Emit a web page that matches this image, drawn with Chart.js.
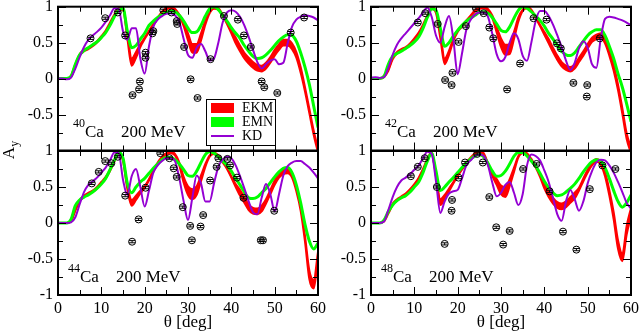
<!DOCTYPE html>
<html>
<head>
<meta charset="utf-8">
<script src="https://cdn.jsdelivr.net/npm/chart.js@4.4.1/dist/chart.umd.min.js"></script>
<style>
  body { margin: 0; background: #fff; }
  #wrap { position: relative; width: 641px; height: 335px; font-family: "Liberation Serif", "Times New Roman", serif; color: #000; }
  #wrap canvas { position: absolute; left: 0; top: 0; }
  .lab { position: absolute; font-size: 17px; line-height: 20px; white-space: nowrap; }
  .lab .sup { font-size: 12px; position: relative; top: -10px; margin-right: 0; }
  .lab .mev { margin-left: 17px; }
  #ytitle { position: absolute; left: -11px; top: 140px; width: 40px; height: 20px; line-height: 20px; font-size: 17px; text-align: center; transform: rotate(-90deg); }
  #ytitle span { font-size: 12px; position: relative; top: 4px; }
  #legend { position: absolute; left: 206px; top: 99px; width: 68px; height: 45px; border: 1px solid #000; background: #fff; }
  #legend .row { position: absolute; left: 0; width: 68px; height: 14px; }
  #legend .sw { position: absolute; left: 4px; width: 23px; }
  #legend .tx { position: absolute; left: 35px; top: 0; font-size: 14px; line-height: 14px; }
</style>
</head>
<body>
<div id="wrap">
  <canvas id="c40" width="641" height="335"></canvas>
  <canvas id="c42" width="641" height="335"></canvas>
  <canvas id="c44" width="641" height="335"></canvas>
  <canvas id="c48" width="641" height="335"></canvas>

  <div class="lab" style="left:73px;top:122px"><span class="sup">40</span>Ca<span class="mev">200 MeV</span></div>
  <div class="lab" style="left:385px;top:122px"><span class="sup">42</span>Ca<span class="mev">200 MeV</span></div>
  <div class="lab" style="left:68px;top:267px"><span class="sup">44</span>Ca<span class="mev">200 MeV</span></div>
  <div class="lab" style="left:381px;top:267px"><span class="sup">48</span>Ca<span class="mev">200 MeV</span></div>

  <div id="ytitle">A<span>y</span></div>

  <div id="legend">
    <div class="row" style="top:1px"><div class="sw" style="top:2px;height:10px;background:#ff0000"></div><div class="tx">EKM</div></div>
    <div class="row" style="top:15px"><div class="sw" style="top:2px;height:10px;background:#00ff00"></div><div class="tx">EMN</div></div>
    <div class="row" style="top:29px"><div class="sw" style="top:6px;height:2px;background:#9400d3"></div><div class="tx">KD</div></div>
  </div>
</div>

<script>
// -----------------------------
// DATA
// -----------------------------
const theta = [0,1,2,3,4,5,6,7,8,9,10,11,12,13,14,15,16,17,18,19,20,21,22,23,24,25,26,27,28,29,30,
               31,32,33,34,35,36,37,38,39,40,41,42,43,44,45,46,47,48,49,50,51,52,53,54,55,56,57,58,59,60];

const xTicksMajor = [0, 10, 20, 30, 40, 50, 60];
const xTicksMinor = [5, 15, 25, 35, 45, 55];
const yTicksMajor = [-1, -0.5, 0, 0.5, 1];
const yTicksMinor = [-0.75, -0.25, 0.25, 0.75];

// 40Ca
const ca40Kd = [0,0,-0.01,0.015,0.14,0.3,0.44,0.54,0.6,0.65,0.71,0.79,0.88,0.98,0.97,0.66,0.54,0.7,0.7,0.28,0.07,0.45,0.72,0.82,0.87,0.9,0.91,0.88,0.79,0.55,0.33,
                0.29,0.43,0.48,0.38,0.25,0.28,0.5,0.78,0.92,0.95,0.93,0.86,0.74,0.58,0.4,0.23,0.14,0.2,0.25,0.27,0.2,0.22,0.49,0.72,0.82,0.86,0.88,0.87,0.85,0.81];
const ca40Emn = [0,0,0,0.03,0.2,0.33,0.39,0.43,0.47,0.51,0.57,0.64,0.74,0.86,0.95,0.98,0.66,0.43,0.46,0.55,0.63,0.74,0.8,0.85,0.89,0.92,0.94,0.93,0.88,0.8,0.7,
                 0.64,0.65,0.74,0.87,0.97,1.0,0.96,0.88,0.8,0.71,0.63,0.56,0.46,0.38,0.31,0.28,0.29,0.33,0.39,0.46,0.53,0.58,0.61,0.6,0.52,0.36,0.16,-0.08,-0.38,-0.68];
const ca40EkmHi = [0,0,0,0.04,0.2,0.34,0.4,0.43,0.47,0.52,0.59,0.67,0.78,0.89,0.98,0.99,0.64,0.28,0.37,0.48,0.57,0.67,0.76,0.85,0.93,0.98,1.0,0.97,0.89,0.79,0.63,
                   0.48,0.48,0.63,0.81,0.93,0.99,0.98,0.89,0.78,0.67,0.57,0.46,0.36,0.29,0.23,0.19,0.18,0.22,0.3,0.4,0.48,0.54,0.54,0.49,0.37,0.16,-0.12,-0.42,-0.72,-0.97];
const ca40EkmLo = [0,0,0,0.02,0.18,0.32,0.38,0.41,0.45,0.5,0.57,0.65,0.76,0.87,0.96,0.95,0.56,0.18,0.29,0.44,0.55,0.65,0.74,0.83,0.91,0.96,0.98,0.95,0.87,0.73,0.53,
                   0.36,0.36,0.53,0.75,0.91,0.97,0.96,0.87,0.76,0.63,0.49,0.38,0.28,0.21,0.15,0.11,0.1,0.14,0.22,0.32,0.4,0.46,0.46,0.41,0.29,0.08,-0.18,-0.48,-0.78,-1.03];
const ca40PtTheta = [7.5,10.9,13.8,15.5,17.2,18.7,18.9,20.2,20.2,21.8,22,24.3,26.2,27.4,27.5,29.1,30.6,32.2,35.2,38.3,41.5,42.9,44.5,47,47.6,50.6,53.7,56.8];
const ca40PtAy    = [0.56,0.84,0.92,0.6,-0.23,-0.15,-0.04,0.36,0.29,0.63,0.66,0.95,0.92,0.8,0.76,0.44,-0.01,-0.27,0.27,0.87,0.82,0.6,0.44,-0.04,-0.12,-0.2,0.64,0.85];

// 42Ca
const ca42Kd = [0.01,0.02,0.01,0.02,0.15,0.33,0.47,0.56,0.63,0.7,0.77,0.84,0.92,0.99,0.86,0.6,0.5,0.72,0.87,0.55,0.06,0.35,0.68,0.82,0.89,0.92,0.92,0.86,0.62,0.34,0.24,
                0.3,0.5,0.63,0.55,0.32,0.25,0.5,0.8,0.94,0.94,0.87,0.75,0.6,0.44,0.25,0.12,0.22,0.42,0.52,0.43,0.2,0.15,0.55,0.83,0.86,0.85,0.83,0.81,0.78,0.74];
const ca42Emn = [0,0,0,0.03,0.2,0.31,0.35,0.38,0.42,0.46,0.51,0.58,0.7,0.85,0.97,0.95,0.7,0.45,0.5,0.59,0.67,0.74,0.8,0.84,0.88,0.92,0.93,0.91,0.85,0.76,0.67,
                 0.65,0.72,0.84,0.95,1.0,0.98,0.93,0.87,0.81,0.73,0.63,0.55,0.46,0.38,0.33,0.32,0.36,0.44,0.52,0.6,0.65,0.68,0.68,0.6,0.45,0.28,0.07,-0.12,-0.35,-0.6];
const ca42EkmHi = [0,0,0,0.04,0.13,0.29,0.37,0.41,0.44,0.49,0.56,0.64,0.75,0.88,0.99,0.95,0.64,0.28,0.39,0.56,0.67,0.74,0.81,0.88,0.95,0.99,1.0,0.97,0.88,0.72,0.56,
                   0.47,0.48,0.65,0.85,0.96,1.0,0.96,0.86,0.75,0.65,0.55,0.43,0.32,0.23,0.18,0.16,0.2,0.29,0.38,0.48,0.57,0.61,0.63,0.55,0.38,0.19,-0.08,-0.41,-0.76,-0.96];
const ca42EkmLo = [0,0,0,0.02,0.11,0.27,0.35,0.39,0.42,0.47,0.54,0.62,0.73,0.86,0.97,0.91,0.56,0.2,0.33,0.52,0.65,0.72,0.79,0.86,0.93,0.97,0.98,0.95,0.84,0.64,0.44,
                   0.33,0.34,0.55,0.79,0.94,0.98,0.94,0.84,0.73,0.61,0.49,0.37,0.26,0.17,0.12,0.1,0.14,0.23,0.32,0.42,0.51,0.55,0.57,0.49,0.32,0.11,-0.16,-0.49,-0.84,-1.04];
const ca42PtTheta = [10.8,12.5,15.4,17.1,18.6,18.8,20.2,21.9,24.2,26,27.3,28.2,31.4,34.4,37.5,40.5,42.9,43.8,46.7,49.9,49.8,52.8];
const ca42PtAy    = [0.78,0.91,0.76,-0.02,-0.09,0.08,0.51,0.73,0.98,0.91,0.71,0.56,-0.15,0.21,0.84,0.82,0.49,0.42,-0.06,-0.09,-0.25,0.56];

// 44Ca
const ca44Kd = [0,0,0,0.01,0.08,0.26,0.43,0.53,0.58,0.63,0.7,0.77,0.87,0.98,0.97,0.6,0.39,0.65,0.75,0.5,0.23,0.45,0.7,0.8,0.86,0.9,0.9,0.86,0.62,0.3,0.04,
                0.35,0.66,0.55,0.3,0.3,0.55,0.78,0.88,0.92,0.9,0.8,0.65,0.48,0.3,0.15,0.12,0.35,0.54,0.4,0.16,0.4,0.66,0.79,0.84,0.86,0.86,0.82,0.77,0.7,0.62];
const ca44Emn = [0,0,0,0.05,0.24,0.32,0.36,0.39,0.43,0.48,0.54,0.62,0.74,0.87,0.98,0.9,0.55,0.42,0.5,0.57,0.62,0.69,0.76,0.82,0.88,0.91,0.91,0.88,0.82,0.74,0.66,
                 0.65,0.72,0.84,0.95,0.99,0.97,0.92,0.86,0.8,0.72,0.62,0.53,0.43,0.35,0.34,0.36,0.42,0.48,0.56,0.64,0.71,0.76,0.77,0.7,0.53,0.28,-0.02,-0.25,-0.36,-0.28];
const ca44EkmHi = [0,0,0,0.04,0.19,0.32,0.38,0.42,0.45,0.5,0.57,0.64,0.74,0.87,0.98,0.9,0.53,0.32,0.38,0.45,0.51,0.61,0.73,0.84,0.92,0.97,0.99,0.96,0.84,0.64,0.51,
                   0.47,0.51,0.66,0.82,0.94,0.98,0.94,0.86,0.77,0.65,0.54,0.46,0.36,0.26,0.21,0.2,0.24,0.33,0.46,0.59,0.69,0.74,0.75,0.69,0.5,0.23,-0.18,-0.66,-0.79,-0.4];
const ca44EkmLo = [0,0,0,0.02,0.17,0.3,0.36,0.4,0.43,0.48,0.55,0.62,0.72,0.85,0.96,0.86,0.47,0.24,0.32,0.41,0.49,0.59,0.71,0.82,0.9,0.95,0.97,0.94,0.8,0.56,0.39,
                   0.33,0.39,0.58,0.78,0.92,0.96,0.92,0.84,0.75,0.63,0.5,0.38,0.28,0.18,0.13,0.12,0.16,0.27,0.4,0.53,0.63,0.68,0.69,0.63,0.44,0.17,-0.26,-0.78,-0.91,-0.5];
const ca44PtTheta = [7.8,9.4,10.9,12.3,13.8,15.5,17.1,18.6,20.2,23.6,25.7,26.7,27.4,28.8,30.5,30.9,32.9,33.5,35.1,36.6,37,39.1,39.7,41.3,42.8,46.8,47.3,49.9];
const ca44PtAy    = [0.55,0.71,0.86,0.83,0.92,0.38,-0.26,0.05,0.49,0.97,0.9,0.76,0.64,0.22,-0.04,-0.24,-0.05,0.11,0.59,0.78,0.9,0.89,0.8,0.63,0.35,-0.24,-0.24,0.17];

// 48Ca
const ca48Kd = [0,0,0,0.02,0.18,0.36,0.5,0.59,0.63,0.68,0.74,0.8,0.9,0.99,0.96,0.58,0.14,0.3,0.41,0.44,0.46,0.62,0.8,0.87,0.93,0.95,0.93,0.8,0.56,0.37,0.42,
                0.53,0.57,0.42,0.25,0.4,0.8,0.95,0.93,0.87,0.73,0.57,0.35,0.12,0.03,0.3,0.46,0.33,0.17,0.3,0.55,0.72,0.84,0.88,0.87,0.8,0.7,0.57,0.43,0.28,0.2];
const ca48Emn = [0,0,0,0.04,0.16,0.25,0.31,0.35,0.38,0.43,0.5,0.57,0.7,0.86,0.97,0.72,0.45,0.5,0.57,0.63,0.7,0.77,0.83,0.89,0.93,0.95,0.92,0.83,0.72,0.65,0.66,
                 0.72,0.82,0.93,0.98,0.98,0.93,0.86,0.79,0.69,0.58,0.49,0.42,0.38,0.39,0.43,0.48,0.54,0.62,0.71,0.79,0.85,0.88,0.86,0.77,0.62,0.45,0.3,0.22,0.28,0.39];
const ca48EkmHi = [0,0,0,0.04,0.15,0.27,0.33,0.37,0.41,0.47,0.54,0.63,0.75,0.89,0.99,0.68,0.33,0.39,0.48,0.57,0.67,0.76,0.84,0.91,0.97,1.0,0.97,0.83,0.69,0.61,0.52,
                   0.5,0.61,0.77,0.93,0.99,0.97,0.89,0.79,0.68,0.56,0.44,0.35,0.29,0.27,0.3,0.36,0.42,0.49,0.62,0.74,0.84,0.89,0.85,0.71,0.46,0.15,-0.24,-0.43,-0.04,0.21];
const ca48EkmLo = [0,0,0,0.02,0.13,0.25,0.31,0.35,0.39,0.45,0.52,0.61,0.73,0.87,0.97,0.64,0.25,0.33,0.44,0.55,0.65,0.74,0.82,0.89,0.95,0.98,0.95,0.81,0.65,0.53,0.4,
                   0.36,0.51,0.71,0.91,0.97,0.95,0.87,0.77,0.64,0.48,0.36,0.27,0.21,0.19,0.22,0.28,0.34,0.45,0.58,0.7,0.8,0.85,0.81,0.65,0.38,0.05,-0.36,-0.53,-0.16,0.09];
const ca48PtTheta = [9.2,10.8,12.4,15.2,17,18.7,18.6,20.2,21.7,24.5,25.8,27.3,28.9,30.5,32,35.1,38.2,41.2,44.3,47.4,50.5,53.4,56.4];
const ca48PtAy    = [0.65,0.78,0.9,0.5,-0.29,0.32,0.17,0.63,0.84,0.96,0.84,0.36,-0.06,-0.3,-0.11,0.75,0.82,0.44,-0.12,-0.37,0.47,0.8,0.75];

const ERR = 0.015;   // error bar half-size on data points

// -----------------------------
// STYLE
// -----------------------------
const RED = "#ff0000";
const GREEN = "#00ff00";
const PURPLE = "#9400d3";
const FONT = { family: "'Liberation Serif', 'Times New Roman', serif", size: 16 };

// frame, inward ticks and error caps
const framePlugin = {
    id: "frame",
    afterDatasetsDraw(chart) {
        const { ctx, chartArea: a, scales: { x, y } } = chart;
        ctx.save();
        ctx.strokeStyle = "#000";
        ctx.lineWidth = 1;
        ctx.beginPath();
        const xt = (list, len) => list.forEach(v => {
            const px = Math.round(x.getPixelForValue(v)) + 0.5;
            ctx.moveTo(px, a.bottom); ctx.lineTo(px, a.bottom - len);
            ctx.moveTo(px, a.top); ctx.lineTo(px, a.top + len);
        });
        const yt = (list, len) => list.forEach(v => {
            const py = Math.round(y.getPixelForValue(v)) + 0.5;
            ctx.moveTo(a.left, py); ctx.lineTo(a.left + len, py);
            ctx.moveTo(a.right, py); ctx.lineTo(a.right - len, py);
        });
        xt(xTicksMajor, 8); xt(xTicksMinor, 5);
        yt(yTicksMajor, 8); yt(yTicksMinor, 5);
        ctx.stroke();

        // error caps of the data points
        const meta = chart.getDatasetMeta(0);
        const pts = chart.data.datasets[0].data;
        ctx.beginPath();
        meta.data.forEach((el, i) => {
            const t = y.getPixelForValue(pts[i].y + ERR);
            const b = y.getPixelForValue(pts[i].y - ERR);
            ctx.moveTo(el.x - 3, t); ctx.lineTo(el.x + 3, t);
            ctx.moveTo(el.x - 3, b); ctx.lineTo(el.x + 3, b);
            ctx.moveTo(el.x, t); ctx.lineTo(el.x, b);
        });
        ctx.stroke();

        ctx.lineWidth = 2;
        ctx.strokeRect(a.left, a.top, a.right - a.left, a.bottom - a.top);
        ctx.restore();
    }
};

function curve(arr) {
    return theta.map((t, i) => ({ x: t, y: arr[i] }));
}

function makePanel(id, area, bottomRow, kd, emn, ekmLo, ekmHi, ptTheta, ptAy) {
    const xHeight = bottomRow ? 40 : 0;
    new Chart(document.getElementById(id), {
        type: "line",
        data: {
            datasets: [
                {
                    label: "data",
                    data: ptTheta.map((t, i) => ({ x: t, y: ptAy[i] })),
                    showLine: false,
                    pointRadius: 3.5,
                    pointBorderWidth: 1,
                    pointBorderColor: "#000",
                    pointBackgroundColor: "rgba(0,0,0,0)",
                    order: 0
                },
                { label: "KD", data: curve(kd), borderColor: PURPLE, borderWidth: 2, order: 1 },
                { label: "EMN", data: curve(emn), borderColor: GREEN, borderWidth: 3, order: 2 },
                { label: "EKM lo", data: curve(ekmLo), borderColor: RED, borderWidth: 2, order: 3 },
                { label: "EKM hi", data: curve(ekmHi), borderColor: RED, borderWidth: 2, backgroundColor: RED, fill: "-1", order: 3 }
            ]
        },
        options: {
            responsive: false,
            animation: false,
            devicePixelRatio: 1,
            events: [],
            elements: {
                point: { radius: 0 },
                line: { cubicInterpolationMode: "monotone" }
            },
            layout: {
                padding: {
                    left: area.left - 50,
                    top: area.top,
                    right: 641 - area.right,
                    bottom: 335 - area.bottom - xHeight
                }
            },
            plugins: { legend: { display: false }, tooltip: { enabled: false } },
            scales: {
                x: {
                    type: "linear",
                    min: 0, max: 60,
                    ticks: { stepSize: 10, display: bottomRow, font: FONT, color: "#000", padding: 4, maxRotation: 0 },
                    grid: { display: false, drawTicks: false },
                    border: { display: false },
                    title: { display: bottomRow, text: "θ [deg]", color: "#000",
                             font: { family: FONT.family, size: 17 }, padding: { top: 0, bottom: 2 } },
                    afterFit: s => { s.height = xHeight; s.paddingLeft = 0; s.paddingRight = 0; }
                },
                y: {
                    min: -1, max: 1,
                    ticks: { stepSize: 0.5, font: FONT, color: "#000", padding: 5,
                             callback: v => (!bottomRow && v === -1) ? "" : v },
                    grid: { display: false, drawTicks: false },
                    border: { display: false },
                    afterFit: s => { s.width = 50; s.paddingTop = 0; s.paddingBottom = 0; }
                }
            }
        },
        plugins: [framePlugin]
    });
}

makePanel("c40", { left: 58, top: 6.7, right: 318, bottom: 150.5 }, false,
          ca40Kd, ca40Emn, ca40EkmLo, ca40EkmHi, ca40PtTheta, ca40PtAy);
makePanel("c42", { left: 371, top: 6.7, right: 631, bottom: 150.5 }, false,
          ca42Kd, ca42Emn, ca42EkmLo, ca42EkmHi, ca42PtTheta, ca42PtAy);
makePanel("c44", { left: 58, top: 151, right: 318, bottom: 295 }, true,
          ca44Kd, ca44Emn, ca44EkmLo, ca44EkmHi, ca44PtTheta, ca44PtAy);
makePanel("c48", { left: 371, top: 151, right: 631, bottom: 295 }, true,
          ca48Kd, ca48Emn, ca48EkmLo, ca48EkmHi, ca48PtTheta, ca48PtAy);
</script>
</body>
</html>
